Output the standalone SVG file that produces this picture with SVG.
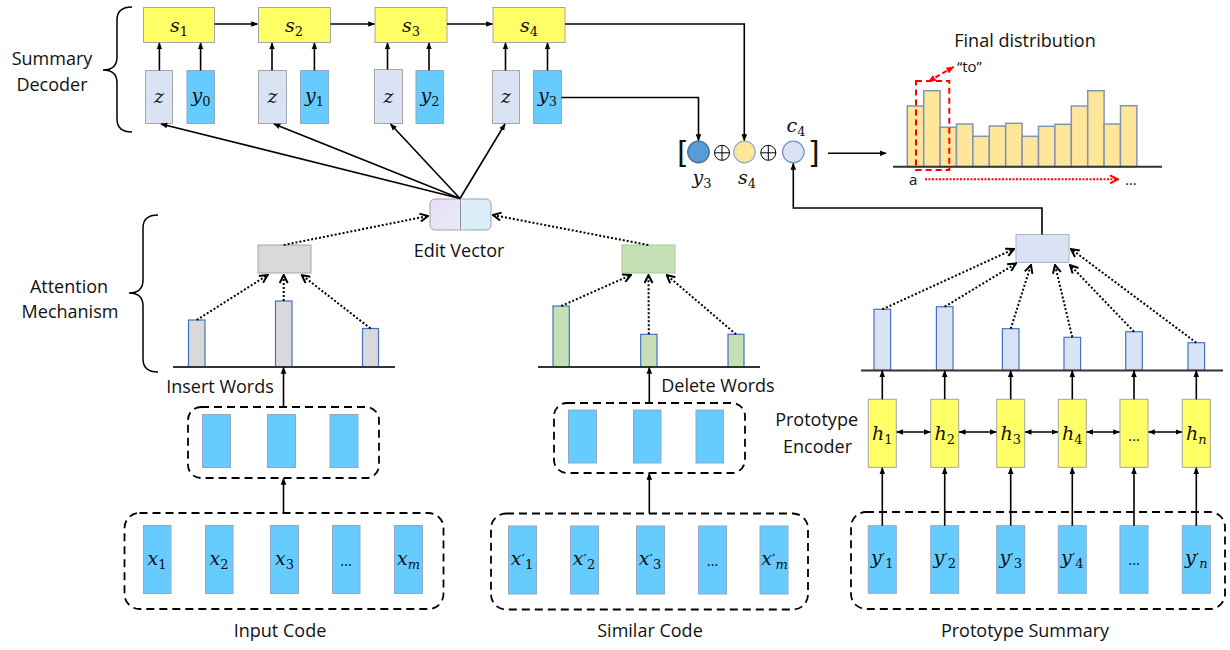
<svg xmlns="http://www.w3.org/2000/svg" width="1230" height="650" viewBox="0 0 1230 650">
<defs>
<style>
.lbl{font-family:"Open Sans","Liberation Sans",sans-serif;font-size:18px;fill:#111}
.m{font-family:"DejaVu Serif","Liberation Serif",serif;font-style:italic;font-size:19px;fill:#111}
.sub{font-style:normal;font-size:13px}
.subi{font-style:italic;font-size:13px}
.pr{font-style:normal;font-size:15px}
.ybox{fill:#66ccff;stroke:#8fa9c4;stroke-width:1}
.zbox{fill:#dae3f3;stroke:#a6a6a6;stroke-width:1}
.sbox{fill:#ffff66;stroke:#a6a6a6;stroke-width:1}
.bar{stroke:#4472c4;stroke-width:1.2}
.dbar{fill:#ffe699;stroke:#7f95b8;stroke-width:1.5}
.base{stroke:#333;stroke-width:2}
.sol{fill:none;stroke:#000;stroke-width:1.6}
.dot{fill:none;stroke:#000;stroke-width:2;stroke-dasharray:2 2}
.dash{fill:none;stroke:#000;stroke-width:1.8;stroke-dasharray:8 5}
.brace{fill:none;stroke:#000;stroke-width:1.5}
.br{font-family:"DejaVu Sans",sans-serif;font-size:30px;fill:#111}
</style>
<marker id="ah" viewBox="0 0 10 10" refX="9" refY="5" markerWidth="7" markerHeight="7" orient="auto-start-reverse" markerUnits="userSpaceOnUse"><path d="M0,1 L10,5 L0,9 z" fill="#000"/></marker>
<marker id="oh" viewBox="0 0 10 10" refX="9" refY="5" markerWidth="10" markerHeight="10" orient="auto" markerUnits="userSpaceOnUse"><path d="M1,1 L9,5 L1,9" fill="none" stroke="#000" stroke-width="2"/></marker>
<marker id="rh" viewBox="0 0 10 10" refX="9" refY="5" markerWidth="10" markerHeight="10" orient="auto" markerUnits="userSpaceOnUse"><path d="M1,1 L9,5 L1,9" fill="none" stroke="#ff0000" stroke-width="2"/></marker>
<marker id="rf" viewBox="0 0 10 10" refX="9" refY="5" markerWidth="8" markerHeight="8" orient="auto-start-reverse" markerUnits="userSpaceOnUse"><path d="M0,1 L10,5 L0,9 z" fill="#ff0000"/></marker>
<linearGradient id="evl" x1="0" y1="0" x2="1" y2="1"><stop offset="0" stop-color="#eadcf6"/><stop offset="1" stop-color="#e6ecf8"/></linearGradient>
<linearGradient id="evr" x1="0" y1="0" x2="1" y2="1"><stop offset="0" stop-color="#e0ecf8"/><stop offset="1" stop-color="#d6f0fb"/></linearGradient>
</defs>
<rect width="1230" height="650" fill="#fff"/>

<g id="labels">
<text class="lbl" x="52" y="65" text-anchor="middle">Summary</text>
<text class="lbl" x="52" y="91" text-anchor="middle">Decoder</text>
<text class="lbl" x="69" y="293" text-anchor="middle">Attention</text>
<text class="lbl" x="70" y="318" text-anchor="middle">Mechanism</text>
<path class="brace" d="M132,7 Q117,7 117,20 V57 Q117,70 103,70 Q117,70 117,83 V119 Q117,132 132,132"/>
<path class="brace" d="M158,215 Q143,215 143,228 V280 Q143,293 129,293 Q143,293 143,306 V359 Q143,372 158,372"/>
</g>

<g id="decoder">
<rect class="sbox" x="143.5" y="7.5" width="71" height="35"/>
<rect class="sbox" x="258.5" y="7.5" width="72" height="35"/>
<rect class="sbox" x="375" y="7.5" width="72" height="35"/>
<rect class="sbox" x="493" y="7.5" width="72" height="35"/>
<text class="m" x="179" y="32" text-anchor="middle">s<tspan class="sub" dy="4">1</tspan></text>
<text class="m" x="294" y="32" text-anchor="middle">s<tspan class="sub" dy="4">2</tspan></text>
<text class="m" x="411" y="32" text-anchor="middle">s<tspan class="sub" dy="4">3</tspan></text>
<text class="m" x="529" y="32" text-anchor="middle">s<tspan class="sub" dy="4">4</tspan></text>
<rect class="zbox" x="145.5" y="70.5" width="27" height="53"/>
<rect class="ybox" x="187" y="70.5" width="27.5" height="53"/>
<rect class="zbox" x="258.5" y="70.5" width="28" height="53"/>
<rect class="ybox" x="300.5" y="70.5" width="28" height="53"/>
<rect class="zbox" x="374.5" y="69.5" width="28" height="54"/>
<rect class="ybox" x="416" y="70.5" width="27.5" height="53"/>
<rect class="zbox" x="492.5" y="70.5" width="27" height="53"/>
<rect class="ybox" x="533.5" y="70.5" width="28" height="53"/>
<text class="m" x="159" y="103" text-anchor="middle">z</text>
<text class="m" x="272.5" y="103" text-anchor="middle">z</text>
<text class="m" x="388.5" y="103" text-anchor="middle">z</text>
<text class="m" x="506" y="103" text-anchor="middle">z</text>
<text class="m" x="201" y="102" text-anchor="middle">y<tspan class="sub" dy="4">0</tspan></text>
<text class="m" x="314.5" y="102" text-anchor="middle">y<tspan class="sub" dy="4">1</tspan></text>
<text class="m" x="430" y="102" text-anchor="middle">y<tspan class="sub" dy="4">2</tspan></text>
<text class="m" x="547.5" y="102" text-anchor="middle">y<tspan class="sub" dy="4">3</tspan></text>
</g>

<g id="editvector">
<rect x="430" y="199" width="30.5" height="31" rx="5" fill="url(#evl)"/>
<rect x="460.5" y="199" width="30.5" height="31" rx="5" fill="url(#evr)"/>
<rect x="430" y="199" width="61" height="31" rx="5" fill="none" stroke="#a0a0b0" stroke-width="1"/>
<line x1="460.5" y1="199" x2="460.5" y2="230" stroke="#8e8e9a" stroke-width="1"/>
<text class="lbl" x="459" y="257" text-anchor="middle">Edit Vector</text>
</g>

<g id="insert">
<rect x="258" y="245" width="53" height="28" fill="#d9d9d9" stroke="#a6a6a6"/>
<rect class="bar" x="188.5" y="320" width="16.5" height="46.7" fill="#d9d9d9"/>
<rect class="bar" x="275.5" y="301" width="16.5" height="65.7" fill="#d9d9d9"/>
<rect class="bar" x="362.5" y="328.5" width="16" height="38.2" fill="#d9d9d9"/>
<line class="base" x1="173" y1="367" x2="395" y2="367"/>
<text class="lbl" x="220" y="393" text-anchor="middle">Insert Words</text>
<rect class="dash" x="188" y="407" width="191" height="71" rx="13"/>
<rect class="ybox" x="202.5" y="414.5" width="28" height="53"/>
<rect class="ybox" x="267.5" y="414.5" width="28" height="53"/>
<rect class="ybox" x="330" y="414.5" width="28" height="53"/>
</g>

<g id="inputcode">
<rect class="dash" x="124.5" y="513" width="319" height="96" rx="15"/>
<rect class="ybox" x="143.5" y="525.5" width="27.5" height="68"/>
<rect class="ybox" x="205.5" y="525.5" width="27.5" height="68"/>
<rect class="ybox" x="270.5" y="525.5" width="28" height="68"/>
<rect class="ybox" x="332.5" y="525.5" width="27.5" height="68"/>
<rect class="ybox" x="394.5" y="525.5" width="28" height="68"/>
<text class="m" x="157" y="565" text-anchor="middle">x<tspan class="sub" dy="4">1</tspan></text>
<text class="m" x="219" y="565" text-anchor="middle">x<tspan class="sub" dy="4">2</tspan></text>
<text class="m" x="284.5" y="565" text-anchor="middle">x<tspan class="sub" dy="4">3</tspan></text>
<text class="lbl" x="346" y="566" text-anchor="middle" style="font-size:15px">…</text>
<text class="m" x="408.5" y="565" text-anchor="middle">x<tspan class="subi" dy="4">m</tspan></text>
<text class="lbl" x="280" y="637" text-anchor="middle">Input Code</text>
</g>

<g id="delete">
<rect x="622" y="245" width="53" height="28" fill="#c5e0b4" stroke="#a9c79a"/>
<rect class="bar" x="553" y="306" width="16.3" height="60.7" fill="#c5e0b4"/>
<rect class="bar" x="640.7" y="334.3" width="16.3" height="32.4" fill="#c5e0b4"/>
<rect class="bar" x="728" y="334.3" width="16" height="32.4" fill="#c5e0b4"/>
<line class="base" x1="538" y1="367" x2="760" y2="367"/>
<text class="lbl" x="718" y="392" text-anchor="middle">Delete Words</text>
<rect class="dash" x="554" y="403" width="191" height="70" rx="13"/>
<rect class="ybox" x="568.5" y="410" width="28" height="53"/>
<rect class="ybox" x="633.5" y="410" width="27.5" height="53"/>
<rect class="ybox" x="696" y="410" width="27.5" height="53"/>
</g>

<g id="similarcode">
<rect class="dash" x="491" y="513.5" width="317" height="96" rx="15"/>
<rect class="ybox" x="508.5" y="526" width="28" height="68"/>
<rect class="ybox" x="570.5" y="526" width="28" height="68"/>
<rect class="ybox" x="636.5" y="526" width="28" height="68"/>
<rect class="ybox" x="698.5" y="526" width="28" height="68"/>
<rect class="ybox" x="760" y="526" width="28" height="68"/>
<text class="m" x="522" y="565" text-anchor="middle">x<tspan class="pr">′</tspan><tspan class="sub" dy="4">1</tspan></text>
<text class="m" x="584" y="565" text-anchor="middle">x<tspan class="pr">′</tspan><tspan class="sub" dy="4">2</tspan></text>
<text class="m" x="650" y="565" text-anchor="middle">x<tspan class="pr">′</tspan><tspan class="sub" dy="4">3</tspan></text>
<text class="lbl" x="712.5" y="566" text-anchor="middle" style="font-size:15px">…</text>
<text class="m" x="774.5" y="565" text-anchor="middle">x<tspan class="pr">′</tspan><tspan class="subi" dy="4">m</tspan></text>
<text class="lbl" x="650" y="637" text-anchor="middle">Similar Code</text>
</g>

<g id="prototype">
<rect x="1016" y="234.5" width="53" height="28" fill="#dae3f3" stroke="#a6b4c8"/>
<rect class="bar" x="874" y="309.3" width="16.6" height="61" fill="#dae3f3"/>
<rect class="bar" x="936.4" y="306.7" width="16.6" height="63.6" fill="#dae3f3"/>
<rect class="bar" x="1002.4" y="328.7" width="16.6" height="41.6" fill="#dae3f3"/>
<rect class="bar" x="1064" y="337.3" width="16.6" height="33" fill="#dae3f3"/>
<rect class="bar" x="1125.7" y="331.7" width="16.6" height="38.6" fill="#dae3f3"/>
<rect class="bar" x="1188" y="342.7" width="16.6" height="27.6" fill="#dae3f3"/>
<line class="base" x1="861" y1="370.5" x2="1223" y2="370.5"/>
<rect class="sbox" x="868.3" y="399.3" width="28" height="68"/>
<rect class="sbox" x="930.7" y="399.3" width="28" height="68"/>
<rect class="sbox" x="996.7" y="399.3" width="28" height="68"/>
<rect class="sbox" x="1058.3" y="399.3" width="28" height="68"/>
<rect class="sbox" x="1120" y="399.3" width="28" height="68"/>
<rect class="sbox" x="1182.3" y="399.3" width="28" height="68"/>
<text class="m" x="882.3" y="440" text-anchor="middle">h<tspan class="sub" dy="4">1</tspan></text>
<text class="m" x="944.7" y="440" text-anchor="middle">h<tspan class="sub" dy="4">2</tspan></text>
<text class="m" x="1010.7" y="440" text-anchor="middle">h<tspan class="sub" dy="4">3</tspan></text>
<text class="m" x="1072.3" y="440" text-anchor="middle">h<tspan class="sub" dy="4">4</tspan></text>
<text class="lbl" x="1134" y="441" text-anchor="middle" style="font-size:15px">…</text>
<text class="m" x="1196.3" y="440" text-anchor="middle">h<tspan class="subi" dy="4">n</tspan></text>
<text class="lbl" x="858" y="426" text-anchor="end">Prototype</text>
<text class="lbl" x="852" y="453" text-anchor="end">Encoder</text>
<rect class="dash" x="851" y="512" width="374" height="97" rx="15"/>
<rect class="ybox" x="868.3" y="525.7" width="28" height="67.6"/>
<rect class="ybox" x="930.7" y="525.7" width="28" height="67.6"/>
<rect class="ybox" x="996.7" y="525.7" width="28" height="67.6"/>
<rect class="ybox" x="1058.3" y="525.7" width="28" height="67.6"/>
<rect class="ybox" x="1120" y="525.7" width="28" height="67.6"/>
<rect class="ybox" x="1182.3" y="525.7" width="28" height="67.6"/>
<text class="m" x="882.3" y="564" text-anchor="middle">y<tspan class="pr">′</tspan><tspan class="sub" dy="4">1</tspan></text>
<text class="m" x="944.7" y="564" text-anchor="middle">y<tspan class="pr">′</tspan><tspan class="sub" dy="4">2</tspan></text>
<text class="m" x="1010.7" y="564" text-anchor="middle">y<tspan class="pr">′</tspan><tspan class="sub" dy="4">3</tspan></text>
<text class="m" x="1072.3" y="564" text-anchor="middle">y<tspan class="pr">′</tspan><tspan class="sub" dy="4">4</tspan></text>
<text class="lbl" x="1134" y="565" text-anchor="middle" style="font-size:15px">…</text>
<text class="m" x="1196.3" y="564" text-anchor="middle">y<tspan class="pr">′</tspan><tspan class="subi" dy="4">n</tspan></text>
<text class="lbl" x="1025" y="637" text-anchor="middle">Prototype Summary</text>
</g>

<g id="combine">
<text class="br" x="677" y="163">[</text>
<circle cx="698.5" cy="152" r="10.8" fill="#5b9bd5" stroke="#41719c" stroke-width="1.2"/>
<circle cx="722" cy="152.8" r="7.5" fill="none" stroke="#000" stroke-width="1"/>
<path d="M714.5,152.8 H729.5 M722,145.3 V160.3" stroke="#000" stroke-width="1"/>
<circle cx="744.5" cy="152" r="10.8" fill="#ffe699" stroke="#8faadc" stroke-width="1.2"/>
<circle cx="768.3" cy="152.8" r="7.5" fill="none" stroke="#000" stroke-width="1"/>
<path d="M760.8,152.8 H775.8 M768.3,145.3 V160.3" stroke="#000" stroke-width="1"/>
<circle cx="793.3" cy="152" r="10.8" fill="#dae3f3" stroke="#6f8fc9" stroke-width="1.2"/>
<text class="br" x="808" y="163">]</text>
<text class="m" x="702" y="184" text-anchor="middle">y<tspan class="sub" dy="4">3</tspan></text>
<text class="m" x="747" y="184" text-anchor="middle">s<tspan class="sub" dy="4">4</tspan></text>
<text class="m" x="796" y="132" text-anchor="middle">c<tspan class="sub" dy="4">4</tspan></text>
</g>

<g id="distribution">
<text class="lbl" x="1025" y="47" text-anchor="middle">Final distribution</text>
<rect class="dbar" x="907.3" y="106" width="16.4" height="60.7"/>
<rect class="dbar" x="923.7" y="90.7" width="16.4" height="76"/>
<rect class="dbar" x="940.1" y="127.3" width="16.4" height="39.4"/>
<rect class="dbar" x="956.5" y="124" width="16.4" height="42.7"/>
<rect class="dbar" x="972.9" y="136.3" width="16.4" height="30.4"/>
<rect class="dbar" x="989.3" y="126" width="16.4" height="40.7"/>
<rect class="dbar" x="1005.7" y="123.3" width="16.4" height="43.4"/>
<rect class="dbar" x="1022.1" y="136.3" width="16.4" height="30.4"/>
<rect class="dbar" x="1038.5" y="126.3" width="16.4" height="40.4"/>
<rect class="dbar" x="1054.9" y="124.3" width="16.4" height="42.4"/>
<rect class="dbar" x="1071.3" y="106" width="16.4" height="60.7"/>
<rect class="dbar" x="1087.7" y="90.7" width="16.4" height="76"/>
<rect class="dbar" x="1104.1" y="124" width="16.4" height="42.7"/>
<rect class="dbar" x="1120.5" y="105.7" width="16.4" height="61"/>
<line class="base" x1="893" y1="166.7" x2="1162" y2="166.7"/>
<rect x="916" y="81" width="33.3" height="89" fill="none" stroke="#ff0000" stroke-width="2" stroke-dasharray="6 4"/>
<line x1="928.5" y1="81.5" x2="953.5" y2="67" stroke="#ff0000" stroke-width="2" stroke-dasharray="5 3" marker-start="url(#rf)" marker-end="url(#rf)"/>
<text class="lbl" x="957" y="72" style="font-size:15px">“to”</text>
<text class="lbl" x="909" y="185" style="font-size:15px">a</text>
<line x1="925" y1="179.3" x2="1118" y2="179.3" stroke="#ff0000" stroke-width="2" stroke-dasharray="2 1.5" marker-end="url(#rh)"/>
<text class="lbl" x="1125" y="185" style="font-size:15px">…</text>
</g>

<g id="connectors">
<line class="sol" x1="214.5" y1="24" x2="257.5" y2="24" marker-end="url(#ah)"/>
<line class="sol" x1="330.5" y1="24" x2="374.5" y2="24" marker-end="url(#ah)"/>
<line class="sol" x1="447" y1="24" x2="492.5" y2="24" marker-end="url(#ah)"/>
<path class="sol" d="M565,24 H744.3 V140.5" marker-end="url(#ah)"/>
<path class="sol" d="M561.5,97.5 H698.5 V140.5" marker-end="url(#ah)"/>
<line class="sol" x1="159.4" y1="70.5" x2="159.4" y2="43" marker-end="url(#ah)"/>
<line class="sol" x1="200.6" y1="70.5" x2="200.6" y2="43" marker-end="url(#ah)"/>
<line class="sol" x1="272" y1="70.5" x2="272" y2="43" marker-end="url(#ah)"/>
<line class="sol" x1="314.4" y1="70.5" x2="314.4" y2="43" marker-end="url(#ah)"/>
<line class="sol" x1="387.5" y1="69.5" x2="387.5" y2="43" marker-end="url(#ah)"/>
<line class="sol" x1="429" y1="70.5" x2="429" y2="43" marker-end="url(#ah)"/>
<line class="sol" x1="505.5" y1="70.5" x2="505.5" y2="43" marker-end="url(#ah)"/>
<line class="sol" x1="547.5" y1="70.5" x2="547.5" y2="43" marker-end="url(#ah)"/>
<line class="sol" x1="460" y1="198.5" x2="161" y2="124" marker-end="url(#ah)"/>
<line class="sol" x1="460" y1="198.5" x2="274" y2="124" marker-end="url(#ah)"/>
<line class="sol" x1="460" y1="198.5" x2="390.5" y2="124" marker-end="url(#ah)"/>
<line class="sol" x1="460" y1="198.5" x2="505" y2="124" marker-end="url(#ah)"/>
<path class="sol" d="M1042,234.5 V208 H793.3 V163.5" marker-end="url(#ah)"/>
<line class="sol" x1="828" y1="153.3" x2="886" y2="153.3" marker-end="url(#ah)"/>
<line class="sol" x1="283.5" y1="407" x2="283.5" y2="367.5" marker-end="url(#ah)"/>
<line class="sol" x1="283.5" y1="513" x2="283.5" y2="478.5" marker-end="url(#ah)"/>
<line class="sol" x1="649.3" y1="403" x2="649.3" y2="367.5" marker-end="url(#ah)"/>
<line class="sol" x1="649.3" y1="513.5" x2="649.3" y2="473.5" marker-end="url(#ah)"/>
<line class="sol" x1="882.3" y1="399.3" x2="882.3" y2="370.8" marker-end="url(#ah)"/>
<line class="sol" x1="944.7" y1="399.3" x2="944.7" y2="370.8" marker-end="url(#ah)"/>
<line class="sol" x1="1010.7" y1="399.3" x2="1010.7" y2="370.8" marker-end="url(#ah)"/>
<line class="sol" x1="1072.3" y1="399.3" x2="1072.3" y2="370.8" marker-end="url(#ah)"/>
<line class="sol" x1="1134" y1="399.3" x2="1134" y2="370.8" marker-end="url(#ah)"/>
<line class="sol" x1="1196.3" y1="399.3" x2="1196.3" y2="370.8" marker-end="url(#ah)"/>
<line class="sol" x1="882.3" y1="525.7" x2="882.3" y2="467.8" marker-end="url(#ah)"/>
<line class="sol" x1="944.7" y1="525.7" x2="944.7" y2="467.8" marker-end="url(#ah)"/>
<line class="sol" x1="1010.7" y1="525.7" x2="1010.7" y2="467.8" marker-end="url(#ah)"/>
<line class="sol" x1="1072.3" y1="525.7" x2="1072.3" y2="467.8" marker-end="url(#ah)"/>
<line class="sol" x1="1134" y1="525.7" x2="1134" y2="467.8" marker-end="url(#ah)"/>
<line class="sol" x1="1196.3" y1="525.7" x2="1196.3" y2="467.8" marker-end="url(#ah)"/>
<line class="sol" x1="896.8" y1="432" x2="930.2" y2="432" marker-start="url(#ah)" marker-end="url(#ah)"/>
<line class="sol" x1="959.2" y1="432" x2="996.2" y2="432" marker-start="url(#ah)" marker-end="url(#ah)"/>
<line class="sol" x1="1025.2" y1="432" x2="1057.8" y2="432" marker-start="url(#ah)" marker-end="url(#ah)"/>
<line class="sol" x1="1086.8" y1="432" x2="1119.5" y2="432" marker-start="url(#ah)" marker-end="url(#ah)"/>
<line class="sol" x1="1148.5" y1="432" x2="1181.8" y2="432" marker-start="url(#ah)" marker-end="url(#ah)"/>
<line class="dot" x1="283.7" y1="245" x2="428" y2="216" marker-end="url(#oh)"/>
<line class="dot" x1="648.3" y1="245" x2="493" y2="215" marker-end="url(#oh)"/>
<line class="dot" x1="196.7" y1="320" x2="267.7" y2="275" marker-end="url(#oh)"/>
<line class="dot" x1="283.7" y1="301" x2="283.7" y2="275" marker-end="url(#oh)"/>
<line class="dot" x1="370.5" y1="328.5" x2="301.7" y2="275" marker-end="url(#oh)"/>
<line class="dot" x1="561.3" y1="306" x2="631" y2="275" marker-end="url(#oh)"/>
<line class="dot" x1="648.8" y1="334.3" x2="648.5" y2="275" marker-end="url(#oh)"/>
<line class="dot" x1="736" y1="334.3" x2="666.7" y2="275" marker-end="url(#oh)"/>
<line class="dot" x1="882.3" y1="309.3" x2="1014" y2="249" marker-end="url(#oh)"/>
<line class="dot" x1="944.7" y1="306.7" x2="1016" y2="263.5" marker-end="url(#oh)"/>
<line class="dot" x1="1010.7" y1="328.7" x2="1031" y2="265" marker-end="url(#oh)"/>
<line class="dot" x1="1072.3" y1="337.3" x2="1055" y2="265" marker-end="url(#oh)"/>
<line class="dot" x1="1134" y1="331.7" x2="1070" y2="265" marker-end="url(#oh)"/>
<line class="dot" x1="1196.3" y1="342.7" x2="1071" y2="249" marker-end="url(#oh)"/>
</g>
</svg>
